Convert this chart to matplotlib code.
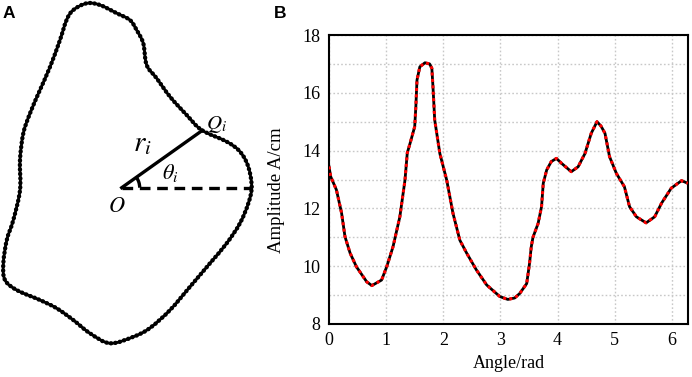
import numpy as np
import matplotlib
matplotlib.use("Agg")
import matplotlib.pyplot as plt
from matplotlib.patches import Arc, PathPatch
from matplotlib.path import Path

plt.rcParams['font.family'] = ['Liberation Serif', 'DejaVu Serif']
plt.rcParams['mathtext.fontset'] = 'stix'

# panel A: contour around O, angle (deg) and radius (px)
contour_deg = [0.4, 9.4, 16.9, 23.7, 35.8, 48.2, 62.0, 72.3, 78.5, 81.5, 84.6, 87.2,
               91.6, 96.8, 100.7, 105.2, 108.2, 112.7, 120.6, 129.9, 140.9, 151.1,
               164.8, 181.3, 196.6, 204.5, 212.6, 218.3, 224.3, 234.0, 241.7, 249.9,
               257.7, 265.7, 274.5, 281.4, 291.6, 304.6, 319.4, 332.1, 343.3, 353.0]
contour_r = [130, 128.3, 123.7, 114.6, 98.6, 97.5, 103, 114.9, 125.2, 146, 158.4, 167.9,
             174.5, 184, 187.7, 184.2, 176.5, 160, 140.6, 127.4, 118.1, 112.4,
             105.4, 101.7, 113.1, 126.3, 140.5, 148.8, 146.6, 138.9, 137, 140.9,
             149, 156, 149.5, 143.1, 131.5, 120.3, 116.2, 118.8, 123.5, 127.6]
q_deg = 35.4
q_r = 98.6

# panel B: amplitude vs angle
angle = [0, 0.03, 0.13, 0.22, 0.28, 0.37, 0.48, 0.66, 0.75, 0.92, 1.01, 1.12, 1.24,
         1.33, 1.37, 1.42, 1.50, 1.52, 1.54, 1.59, 1.68, 1.76, 1.80, 1.82, 1.85, 1.94,
         2.06, 2.17, 2.29, 2.41, 2.58, 2.76, 2.99, 3.13, 3.25, 3.34, 3.46, 3.51, 3.54,
         3.57, 3.66, 3.72, 3.75, 3.81, 3.89, 3.98, 4.07, 4.24, 4.36, 4.48, 4.59, 4.69,
         4.76, 4.83, 4.91, 5.03, 5.17, 5.26, 5.38, 5.55, 5.70, 5.82, 5.99, 6.17, 6.28]
amplitude = [13.45, 13.1, 12.64, 11.84, 11.02, 10.45, 9.98, 9.46, 9.33, 9.52, 9.98, 10.67,
             11.71, 12.98, 13.92, 14.26, 14.83, 15.52, 16.44, 16.9, 17.04, 17.0, 16.85,
             16.2, 15.06, 13.9, 12.98, 11.83, 10.9, 10.45, 9.87, 9.35, 8.95, 8.85, 8.9,
             9.06, 9.4, 10.1, 10.67, 11.0, 11.48, 12.06, 12.87, 13.33, 13.62, 13.73,
             13.56, 13.27, 13.44, 13.9, 14.6, 15.0, 14.85, 14.6, 13.79, 13.21, 12.75,
             12.06, 11.71, 11.5, 11.71, 12.18, 12.7, 12.96, 12.87]

fig = plt.figure(figsize=(6.92, 3.77), dpi=100)

# ---- panel A ----
axa = fig.add_axes([0, 0, 280 / 692, 1])
axa.set_xlim(-121.7, 280 - 121.7)
axa.set_ylim(-(377 - 187.7), 187.7)
axa.axis('off')

t = np.radians(contour_deg)
pts = np.column_stack([np.array(contour_r) * np.cos(t), np.array(contour_r) * np.sin(t)])
n = len(pts)
verts = [pts[0]]
codes = [Path.MOVETO]
for i in range(n):
    p0, p1, p2, p3 = pts[i - 1], pts[i], pts[(i + 1) % n], pts[(i + 2) % n]
    verts += [p1 + (p2 - p0) / 6, p2 - (p3 - p1) / 6, p2]
    codes += [Path.CURVE4] * 3
contour = Path(verts, codes)
axa.add_patch(PathPatch(contour, fill=False, edgecolor='black', lw=2.0))
axa.add_patch(PathPatch(contour, fill=False, edgecolor='black', lw=3.2,
                        linestyle=(0, (0.01, 1.0)), capstyle='round'))

# radius to Q and dashed reference line
qx = q_r * np.cos(np.radians(q_deg))
qy = q_r * np.sin(np.radians(q_deg))
axa.plot([0, qx], [0, qy], color='black', lw=2.4)
axa.plot([0, contour_r[0]], [0, 0], color='black', lw=2.4, linestyle=(0, (3.2, 2.0)))
axa.add_patch(Arc((0, 0), 36, 36, theta1=0, theta2=q_deg, color='black', lw=2.4))

axa.text(11, 37, r'$r_i$', fontsize=21, ha='left', va='baseline')
axa.text(40, 9, r'$\theta_i$', fontsize=16, ha='left', va='baseline')
axa.text(84, 59, r'$Q_i$', fontsize=15, ha='left', va='baseline')
axa.text(-14, -24, r'$O$', fontsize=16, ha='left', va='baseline')

fig.text(3 / 692, 1 - 18.5 / 377, 'A', fontsize=12.5, fontweight='bold',
         family='Liberation Sans', ha='left', va='baseline')
fig.text(274 / 692, 1 - 17.5 / 377, 'B', fontsize=12.5, fontweight='bold',
         family='Liberation Sans', ha='left', va='baseline')

# ---- panel B ----
axb = fig.add_axes([329 / 692, 53 / 377, 359 / 692, 289 / 377])
axb.plot(angle, amplitude, color='black', lw=2.0, zorder=3)
axb.plot(angle, amplitude, color='red', lw=2.2, linestyle=(0, (1, 1.1)), zorder=4)
axb.set_xlim(0, 2 * np.pi)
axb.set_ylim(8, 18)
axb.set_xticks([0, 1, 2, 3, 4, 5, 6])
axb.set_yticks([8, 10, 12, 14, 16, 18])
axb.set_yticks(np.arange(8, 19, 1), minor=True)
axb.tick_params(axis='both', which='both', length=0, pad=6, labelsize=13)
axb.grid(True, which='both', axis='y', color='#c8c8c8', linestyle=(0, (1.2, 1.6)), lw=1.0)
axb.grid(True, which='major', axis='x', color='#c8c8c8', linestyle=(0, (1.2, 1.6)), lw=1.0)
for s in axb.spines.values():
    s.set_linewidth(1.5)
axb.set_xlabel('Angle/rad', fontsize=13, labelpad=4)
axb.set_ylabel('Amplitude A/cm', fontsize=13.5)
axb.yaxis.set_label_coords(-0.123, 0.464)

fig.savefig('out.png', dpi=100)
